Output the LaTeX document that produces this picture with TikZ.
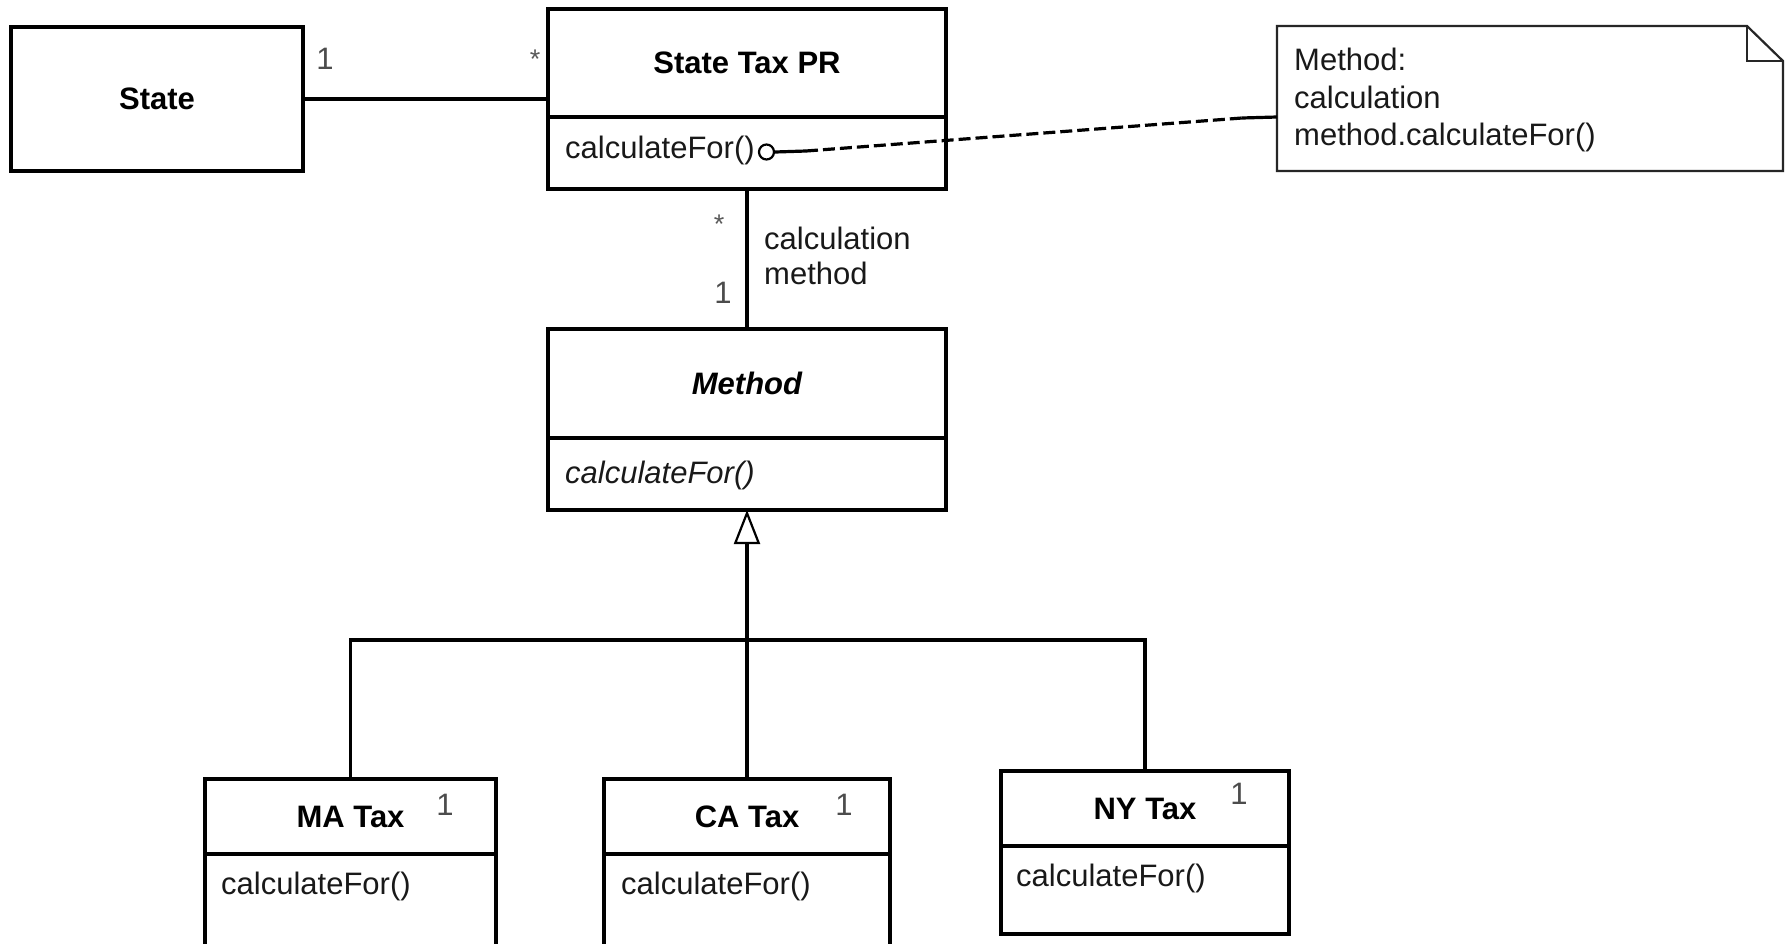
\documentclass[tikz,border=0pt]{standalone}
\usepackage{fontspec}
\setmainfont{Liberation Sans}
\usetikzlibrary{arrows.meta}
\begin{document}
\begin{tikzpicture}[x=1pt,y=-1pt,
  box/.style={draw, line width=3.4pt, inner sep=0pt, outer sep=0pt, anchor=north west},
  ttl/.style={font=\fontsize{31}{37}\selectfont\bfseries},
  ttlit/.style={font=\fontsize{31}{37}\selectfont\bfseries\itshape},
  txt/.style={font=\fontsize{31}{37.5}\selectfont, text=black!90, inner sep=0pt, anchor=west},
  txtit/.style={font=\fontsize{31}{37.5}\selectfont\itshape, text=black!90, inner sep=0pt, anchor=west},
  mult/.style={font=\fontsize{31}{36}\selectfont, text=black!70, inner sep=0pt},
  star/.style={font=\fontsize{27}{30}\selectfont, text=black!65, inner sep=0pt},
  conn/.style={line width=3.2pt},
  notebox/.style={draw, line width=2.2pt, draw=black!85},
]
\clip (0,0) rectangle (1786,943);
\fill[white] (0,0) rectangle (1786,943);

% State
\node[box, ttl, minimum width=292pt, minimum height=144pt] (state) at (11,27) {State};

% State Tax PR
\node[box, ttl, minimum width=398pt, minimum height=108pt] (stpT) at (548,9) {State Tax PR};
\node[box, minimum width=398pt, minimum height=72pt] (stpB) at (548,117) {};
\node[txt] (stpOp) at (565,150) {calculateFor()};
\node[draw, circle, line width=2.2pt, minimum size=15pt, inner sep=0pt, anchor=west] (lolli) at ([xshift=3pt,yshift=-2pt]stpOp.east) {};

% Note
\node[minimum width=506pt, minimum height=145pt, inner sep=0pt, outer sep=0pt, anchor=north west] (note) at (1277,26) {};
\draw[notebox] (note.north west) -- ([xshift=-36pt]note.north east) -- ([yshift=-35pt]note.north east) -- (note.south east) -- (note.south west) -- cycle;
\draw[notebox] ([xshift=-36pt]note.north east) |- ([yshift=-35pt]note.north east);
\node[txt, align=left, anchor=north west] (noteTxt) at (1294,48) {Method:\\calculation\\method.calculateFor()};

% dashed note connector
\coordinate (d1) at (806,151);
\coordinate (d2) at (1242,118);
\draw[conn] (lolli.east) -- (d1);
\draw[conn, dash pattern=on 12pt off 5pt] (d1) -- (d2);
\draw[conn] (d2) -- ([yshift=-18.5pt]note.west);

% State -- State Tax PR
\draw[conn] (state.east) -- (state.east -| stpT.west);
\node[mult] (m1) at (325,59) {1};
\node[star] (m2) at (535,59) {*};

% Method
\node[box, ttlit, minimum width=398pt, minimum height=109pt] (methT) at (548,329) {Method};
\node[box, minimum width=398pt, minimum height=72pt] (methB) at (548,438) {};
\node[txtit] (methOp) at (565,475) {calculateFor()};

% association State Tax PR -- Method
\draw[conn] (stpB.south) -- (methT.north);
\node[star] (m3) at (719,224) {*};
\node[mult] (m4) at (723,293) {1};
\node[txt, align=left, anchor=north west, font=\fontsize{31}{35}\selectfont] (role) at (764,227) {calculation\\method};

% subclasses
\node[box, ttl, minimum width=291pt, minimum height=75pt] (maT) at (205,779) {MA Tax};
\node[box, minimum width=291pt, minimum height=120pt] (maB) at (205,854) {};
\node[mult] (m5) at (445,805) {1};
\node[txt] (maOp) at (221,886) {calculateFor()};

\node[box, ttl, minimum width=286pt, minimum height=75pt] (caT) at (604,779) {CA Tax};
\node[box, minimum width=286pt, minimum height=120pt] (caB) at (604,854) {};
\node[mult] (m6) at (844,805) {1};
\node[txt] (caOp) at (621,886) {calculateFor()};

\node[box, ttl, minimum width=288pt, minimum height=75pt] (nyT) at (1001,771) {NY Tax};
\node[box, minimum width=288pt, minimum height=88pt] (nyB) at (1001,846) {};
\node[mult] (m7) at (1239,794) {1};
\node[txt] (nyOp) at (1016,878) {calculateFor()};

% generalization
\coordinate (bus) at (747,640);
\draw[conn, -{Triangle[open, length=34pt, width=26pt, line width=2.2pt]}] (caT.north) -- (methB.south);
\draw[conn] (maT.north) |- (bus) -| (nyT.north);
\end{tikzpicture}
\end{document}
